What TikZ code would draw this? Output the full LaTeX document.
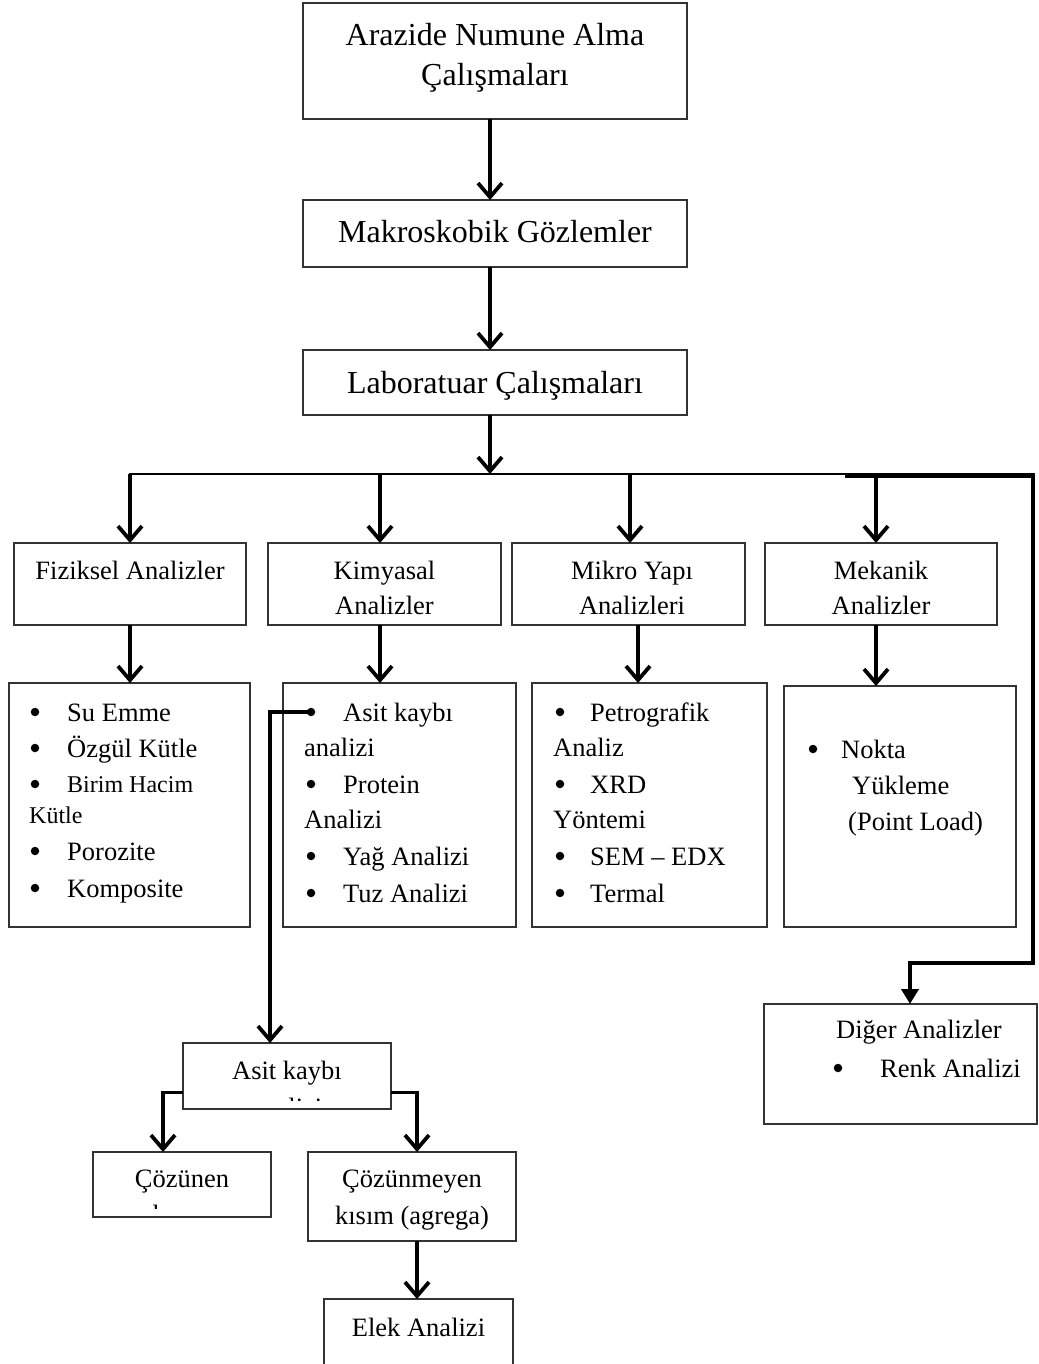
\documentclass[tikz,border=0pt]{standalone}
\usepackage{fontspec}
\setmainfont{Liberation Serif}
\usetikzlibrary{arrows.meta,calc}
\begin{document}
\begin{tikzpicture}[x=1pt,y=-1pt,
  box/.style={draw=black!80, line width=1.3pt, inner sep=0pt, outer sep=0pt},
  big/.style={inner sep=0pt, anchor=base, font=\fontsize{32}{38}\selectfont},
  txt/.style={inner sep=0pt, anchor=base, font=\fontsize{26.5}{32}\selectfont},
  sml/.style={inner sep=0pt, anchor=base west, font=\fontsize{24}{28}\selectfont},
  lt/.style={txt, anchor=base west},
  bul/.style={circle, fill=black, draw=none, inner sep=0pt, minimum size=8.5pt},
  arr/.style={line width=3.8pt, line join=miter,
    -{Straight Barb[length=14pt,width=24pt,line width=3.8pt]}},
  tri/.style={line width=4.2pt, line join=miter,
    -{Triangle[length=15pt,width=17pt]}},
  thinline/.style={line width=2pt}
]
\clip (0,0) rectangle (1038,1364);
\useasboundingbox (0,0) rectangle (1038,1364);
\fill[white] (0,0) rectangle (1038,1364);

% ---------- boxes ----------
\node[box, minimum width=384pt, minimum height=116pt] (arazide) at (495,61) {};
\node[box, minimum width=384pt, minimum height=67pt]  (makro)   at (495,233.5) {};
\node[box, minimum width=384pt, minimum height=65pt]  (lab)     at (495,382.5) {};

\node[box, minimum width=232pt, minimum height=82pt] (fiz) at (130,584) {};
\node[box, minimum width=233pt, minimum height=82pt] (kim) at (384.5,584) {};
\node[box, minimum width=233pt, minimum height=82pt] (mik) at (628.5,584) {};
\node[box, minimum width=232pt, minimum height=82pt] (mek) at (881,584) {};

\node[box, minimum width=241pt, minimum height=244pt] (fizL) at (129.5,805) {};
\node[box, minimum width=233pt, minimum height=244pt] (kimL) at (399.5,805) {};
\node[box, minimum width=235pt, minimum height=244pt] (mikL) at (649.5,805) {};
\node[box, minimum width=232pt, minimum height=241pt] (mekL) at (900,806.5) {};

\node[box, minimum width=273pt, minimum height=120pt] (diger) at (900.5,1064) {};

\node[box, minimum width=208pt, minimum height=66pt] (asit) at (287,1076) {};
\node[box, minimum width=178pt, minimum height=65pt] (coz)  at (182,1184.5) {};
\node[box, minimum width=208pt, minimum height=89pt] (cozm) at (412,1196.5) {};
\node[box, minimum width=189pt, minimum height=101pt] (elek) at (418.5,1349.5) {};

% ---------- texts ----------
\node[big] (t1a) at (495,46) {Arazide Numune Alma};
\node[big] (t1b) at (495,86) {Çalışmaları};
\node[big] (t2) at (495,243) {Makroskobik Gözlemler};
\node[big] (t3) at (495,393) {Laboratuar Çalışmaları};

\node[txt] (tf) at (130,579) {Fiziksel Analizler};
\node[txt] (tk1) at (384.5,579) {Kimyasal};
\node[txt] (tk2) at (384.5,614) {Analizler};
\node[txt] (tm1) at (632,579) {Mikro Yapı};
\node[txt] (tm2) at (632,614) {Analizleri};
\node[txt] (te1) at (881,579) {Mekanik};
\node[txt] (te2) at (881,614) {Analizler};

% Fiziksel list
\node[bul] (fb1) at (35,712) {}; \node[lt] (fl1) at (67,721) {Su Emme};
\node[bul] (fb2) at (35,748) {}; \node[lt] (fl2) at (67,757) {Özgül Kütle};
\node[bul] (fb3) at (35,784) {}; \node[sml] (fl3) at (67,792) {Birim Hacim};
\node[sml] (fl3b) at (29,823) {Kütle};
\node[bul] (fb4) at (35,851) {}; \node[lt] (fl4) at (67,860) {Porozite};
\node[bul] (fb5) at (35,888) {}; \node[lt] (fl5) at (67,897) {Komposite};

% Kimyasal list
\node[bul] (kb1) at (311,712) {}; \node[lt] (kl1) at (343,721) {Asit kaybı};
\node[lt] (kl1b) at (304,756) {analizi};
\node[bul] (kb2) at (311,784) {}; \node[lt] (kl2) at (343,793) {Protein};
\node[lt] (kl2b) at (304,828) {Analizi};
\node[bul] (kb3) at (311,856) {}; \node[lt] (kl3) at (343,865) {Yağ Analizi};
\node[bul] (kb4) at (311,893) {}; \node[lt] (kl4) at (343,902) {Tuz Analizi};

% Mikro list
\node[bul] (mb1) at (560,712) {}; \node[lt] (ml1) at (590,721) {Petrografik};
\node[lt] (ml1b) at (553,756) {Analiz};
\node[bul] (mb2) at (560,784) {}; \node[lt] (ml2) at (590,793) {XRD};
\node[lt] (ml2b) at (553,828) {Yöntemi};
\node[bul] (mb3) at (560,856) {}; \node[lt] (ml3) at (590,865) {SEM – EDX};
\node[bul] (mb4) at (560,893) {}; \node[lt] (ml4) at (590,902) {Termal};

% Mekanik list
\node[bul] (eb1) at (813,749) {}; \node[lt] (el1) at (841,758) {Nokta};
\node[lt] (el2) at (852,794) {Yükleme};
\node[lt] (el3) at (848,830) {(Point Load)};

% Diger
\node[txt] (dg1) at (919,1038) {Diğer Analizler};
\node[bul] (db1) at (838,1068) {}; \node[lt] (dl1) at (880,1077) {Renk Analizi};

% lower boxes
\node[txt] (at1) at (287,1079) {Asit kaybı};
\begin{scope}
  \clip (asit.north west) rectangle ([yshift=9pt]asit.south east);
  \node[txt] (at2) at (287,1116) {analizi};
\end{scope}
\node[txt] (ct1) at (182,1187) {Çözünen};
\begin{scope}
  \clip (coz.north west) rectangle ([yshift=9pt]coz.south east);
  \node[txt] (ct2) at (182,1223) {kısım};
\end{scope}
\node[txt] (cm1) at (412,1187) {Çözünmeyen};
\node[txt] (cm2) at (412,1224) {kısım (agrega)};
\node[txt] (ek1) at (418.5,1336) {Elek Analizi};

% ---------- connectors ----------
\draw[arr] ([xshift=-5pt]arazide.south) -- ([xshift=-5pt]makro.north);
\draw[arr] ([xshift=-5pt]makro.south) -- ([xshift=-5pt]lab.north);
\coordinate (j) at (490,474);
\draw[arr] ([xshift=-5pt]lab.south) -- (j);

\coordinate (h0) at (129,474);
\coordinate (h1) at (846,474);
\draw[thinline] (h0) -- (h1);
\coordinate (d1) at (130,474);
\coordinate (d2) at (380,474);
\coordinate (d3) at (630,474);
\coordinate (d4) at (876,474);
\draw[arr] (d1) -- (d1 |- fiz.north);
\draw[arr] (d2) -- (d2 |- kim.north);
\draw[arr] (d3) -- (d3 |- mik.north);
\draw[arr] (d4) -- (d4 |- mek.north);

\coordinate (v1) at (130,0);
\coordinate (v2) at (380,0);
\coordinate (v3) at (638,0);
\coordinate (v4) at (876,0);
\draw[arr] (fiz.south -| v1) -- (fizL.north -| v1);
\draw[arr] (kim.south -| v2) -- (kimL.north -| v2);
\draw[arr] (mik.south -| v3) -- (mikL.north -| v3);
\draw[arr] (mek.south -| v4) -- (mekL.north -| v4);

% right thick connector to Diger
\coordinate (r0) at (845,475.5);
\coordinate (r1) at (1033,475.5);
\coordinate (r2) at (1033,963);
\coordinate (r3) at (910,963);
\draw[tri] (r0) -- (r1) -- (r2) -- (r3) -- (r3 |- diger.north);

% from Asit kaybi bullet down to Asit kaybi box
\coordinate (c1) at (270,712);
\draw[arr] (kb1.center) -- (c1) -- (c1 |- asit.north);

% Asit box to the two results
\coordinate (aL) at ($(asit.south west)!0.25!(asit.north west)$);
\coordinate (aR) at ($(asit.south east)!0.25!(asit.north east)$);
\coordinate (cL) at (163,0);
\coordinate (cR) at (417,0);
\draw[arr] (aL) -- (aL -| cL) -- (cL |- coz.north);
\draw[arr] (aR) -- (aR -| cR) -- (cR |- cozm.north);
\draw[arr] (cozm.south -| cR) -- (elek.north -| cR);
\end{tikzpicture}
\end{document}
